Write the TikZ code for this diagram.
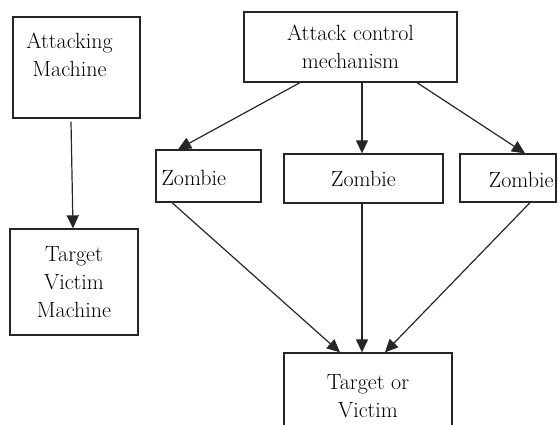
\documentclass[tikz,border=0pt]{standalone}
\usetikzlibrary{arrows.meta}
\begin{document}
\begin{tikzpicture}[x=1pt,y=-1pt,
  box/.style={draw=black!85, line width=1.3pt, inner sep=0pt, align=center,
    font=\fontsize{22}{28}\selectfont, text=black},
  lbl/.style={inner sep=0pt, align=center, font=\fontsize{22}{28}\selectfont, text=black},
  arr/.style={draw=black!85, line width=1.2pt, -{Triangle[length=13pt,width=12pt]}}]
\useasboundingbox (0,0) rectangle (558,425);
\clip (0,0) rectangle (558,425);
\node[box, minimum width=127, minimum height=101,
  label={[lbl, anchor=north, xshift=-7pt, yshift=-16pt]north:Attacking\\Machine}] (am) at (76.5,67.5) {};
\node[box, minimum width=128, minimum height=106] (tvm) at (74,282) {Target\\Victim\\Machine};
\node[box, minimum width=213, minimum height=70] (acm) at (350.5,47) {Attack control\\mechanism};
\node[box, minimum width=105, minimum height=52,
  label={[lbl, anchor=west, xshift=6pt, yshift=-2pt]west:Zombie}] (z1) at (208.5,176) {};
\node[box, minimum width=159, minimum height=49] (z2) at (363.5,178.5) {Zombie};
\node[box, minimum width=96, minimum height=48,
  label={[lbl, anchor=east, xshift=-3pt, yshift=-2pt]east:Zombie}] (z3) at (508,178) {};
\node[box, minimum width=168, minimum height=86] (tv) at (368,396) {Target or\\Victim};
\draw[arr] ([xshift=-5.5pt,yshift=-3pt]am.south) -- ([xshift=-1pt]tvm.north);
\draw[arr] ([xshift=-50.5pt]acm.south) -- ([xshift=-30.5pt]z1.north);
\draw[arr] ([xshift=11.5pt]acm.south) -- ([xshift=-1.5pt]z2.north);
\draw[arr] ([xshift=66.5pt]acm.south) -- ([xshift=17pt]z3.north);
\draw[arr] ([xshift=-36.5pt]z1.south) -- ([xshift=-28pt]tv.north);
\draw[arr] ([xshift=-1.5pt]z2.south) -- ([xshift=-6pt]tv.north);
\draw[arr] ([xshift=22pt]z3.south) -- ([xshift=17pt]tv.north);
\end{tikzpicture}
\end{document}
